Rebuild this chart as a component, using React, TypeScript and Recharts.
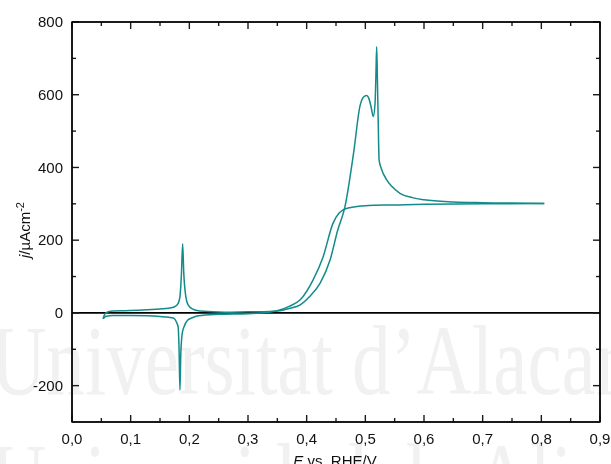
import { LineChart, Line, XAxis, YAxis, ReferenceLine } from 'recharts';

// positive-going scan (E / V vs RHE, j / µA cm-2)
const anodicE = [
  0.053, 0.056, 0.062, 0.07, 0.09, 0.12, 0.15, 0.165, 0.175, 0.181, 0.184, 0.1866, 0.1886, 0.1905,
  0.194, 0.198, 0.205, 0.218, 0.26, 0.3, 0.337, 0.354, 0.37, 0.389, 0.405, 0.423, 0.44, 0.453,
  0.465, 0.48, 0.491, 0.497, 0.502, 0.506, 0.51, 0.5136, 0.5165, 0.518, 0.5193, 0.5205, 0.522,
  0.5235, 0.527, 0.5364, 0.545, 0.559, 0.58, 0.6, 0.65, 0.7, 0.75, 0.805,
];
const anodicJ = [
  -16, -3, 3, 5, 6, 8, 11, 13, 17, 26, 45, 110, 190, 110,
  45, 22, 11, 5, 2, 3, 4, 6, 12, 22, 45, 82, 146, 228,
  290, 440, 570, 594, 598, 590, 565, 540, 575, 650, 732, 650, 520,
  420, 398, 366, 348, 329, 317, 311, 305, 303, 302, 301,
];

// negative-going scan, listed in ascending E
const cathodicE = [
  0.053, 0.058, 0.07, 0.1, 0.13, 0.15, 0.165, 0.1727, 0.178, 0.181, 0.1825, 0.184, 0.1855, 0.188,
  0.191, 0.197, 0.204, 0.215, 0.25, 0.3, 0.33, 0.354, 0.37, 0.389, 0.411, 0.428, 0.445, 0.455,
  0.462, 0.475, 0.5, 0.55, 0.6, 0.7, 0.805,
];
const cathodicJ = [
  -16, -9, -7, -7, -8, -10, -12, -14, -25, -40, -100, -212, -110, -55,
  -38, -20, -14, -8, -4, -2, 1, 8, 18, 36, 91, 154, 247, 274,
  283, 290, 295, 297, 299, 300, 301,
];

const xTicks = [0, 0.05, 0.1, 0.15, 0.2, 0.25, 0.3, 0.35, 0.4, 0.45, 0.5, 0.55, 0.6, 0.65, 0.7, 0.75, 0.8, 0.85, 0.9];
const xMajorLabels = ['0,0', '0,1', '0,2', '0,3', '0,4', '0,5', '0,6', '0,7', '0,8', '0,9'];
const yTicks = [-200, -100, 0, 100, 200, 300, 400, 500, 600, 700, 800];

const anodic = anodicE.map((E, i) => ({ E, j: anodicJ[i] }));
const cathodic = cathodicE.map((E, i) => ({ E, j: cathodicJ[i] }));

const FONT = "Arial, 'Liberation Sans', sans-serif";
const AXIS = '#1a1a1a';
const TEAL = '#138b8b';

// plot frame edges
const LEFT = 72;
const RIGHT = 600;
const TOP = 22;
const BOTTOM = 422;

const xIndex = (v: number) => Math.round(v * 20);

// bottom tick also draws the mirrored tick on the top frame edge
function BottomTick(props: any) {
  const { x, payload } = props;
  const k = xIndex(payload.value);
  const major = k % 2 === 0;
  const len = major ? 7 : 4;
  return (
    <g>
      <line x1={x} x2={x} y1={BOTTOM} y2={BOTTOM - len} stroke={AXIS} strokeWidth={1.4} />
      <line x1={x} x2={x} y1={TOP} y2={TOP + len} stroke={AXIS} strokeWidth={1.4} />
      {major && (
        <text x={x} y={BOTTOM + 22} textAnchor="middle" fontSize={15} fontFamily={FONT} fill="#111">
          {xMajorLabels[k / 2]}
        </text>
      )}
    </g>
  );
}

// left tick also draws the mirrored tick on the right frame edge
function LeftTick(props: any) {
  const { y, payload } = props;
  const major = payload.value % 200 === 0;
  const len = major ? 7 : 4;
  return (
    <g>
      <line x1={LEFT} x2={LEFT + len} y1={y} y2={y} stroke={AXIS} strokeWidth={1.4} />
      <line x1={RIGHT} x2={RIGHT - len} y1={y} y2={y} stroke={AXIS} strokeWidth={1.4} />
      {major && (
        <text x={LEFT - 9} y={y + 5.3} textAnchor="end" fontSize={15} fontFamily={FONT} fill="#111">
          {payload.value}
        </text>
      )}
    </g>
  );
}

export default function App() {
  return (
    <div style={{ position: 'absolute', left: 0, top: 0, width: 611, height: 464, overflow: 'hidden', background: '#fff' }}>
      <div style={{ position: 'absolute', left: 0, top: 0 }}>
        <LineChart width={611} height={464} margin={{ top: 22, right: 11, bottom: 12, left: 0 }}>
          <XAxis
            dataKey="E"
            type="number"
            domain={[0, 0.9]}
            ticks={xTicks}
            interval={0}
            height={30}
            tick={<BottomTick />}
            axisLine={{ stroke: AXIS, strokeWidth: 1.5 }}
            tickLine={false}
            allowDataOverflow
          />
          <YAxis
            type="number"
            domain={[-300, 800]}
            ticks={yTicks}
            interval={0}
            width={72}
            tick={<LeftTick />}
            axisLine={{ stroke: AXIS, strokeWidth: 1.5 }}
            tickLine={false}
            allowDataOverflow
          />
          <ReferenceLine y={800} stroke={AXIS} strokeWidth={1.5} />
          <ReferenceLine x={0.9} stroke={AXIS} strokeWidth={1.5} />
          <ReferenceLine y={0} stroke="#000" strokeWidth={1.6} />
          <Line data={cathodic} dataKey="j" type="monotone" stroke={TEAL} strokeWidth={1.5} dot={false} isAnimationActive={false} />
          <Line data={anodic} dataKey="j" type="monotone" stroke={TEAL} strokeWidth={1.5} dot={false} isAnimationActive={false} />
        </LineChart>
        {/* watermark (multiplied so it never hides the plot), frame and axis titles */}
        <svg
          width={611}
          height={464}
          style={{ position: 'absolute', left: 0, top: 0, pointerEvents: 'none', mixBlendMode: 'multiply' }}
        >
          <g transform="scale(0.77,1)">
            <text x={-12} y={394} fontSize={100} fontFamily="'Liberation Serif', serif" fill="#f1f1f1">
              Universitat d’Alacant
            </text>
            <text x={-12} y={512} fontSize={100} fontFamily="'Liberation Serif', serif" fill="#f1f1f1">
              Universidad de Alicante
            </text>
          </g>
          <rect x={LEFT} y={TOP} width={RIGHT - LEFT} height={BOTTOM - TOP} fill="none" stroke={AXIS} strokeWidth={1.5} />
          <text transform="translate(30,230) rotate(-90)" textAnchor="middle" fontSize={15} fontFamily={FONT} fill="#111">
            <tspan fontStyle="italic">j</tspan>
            <tspan>/µAcm</tspan>
            <tspan dy={-6} fontSize={11}>-2</tspan>
          </text>
          <text x={335} y={466} textAnchor="middle" fontSize={15} fontFamily={FONT} fill="#111">
            <tspan fontStyle="italic">E</tspan>
            <tspan> vs. RHE/V</tspan>
          </text>
        </svg>
      </div>
    </div>
  );
}
